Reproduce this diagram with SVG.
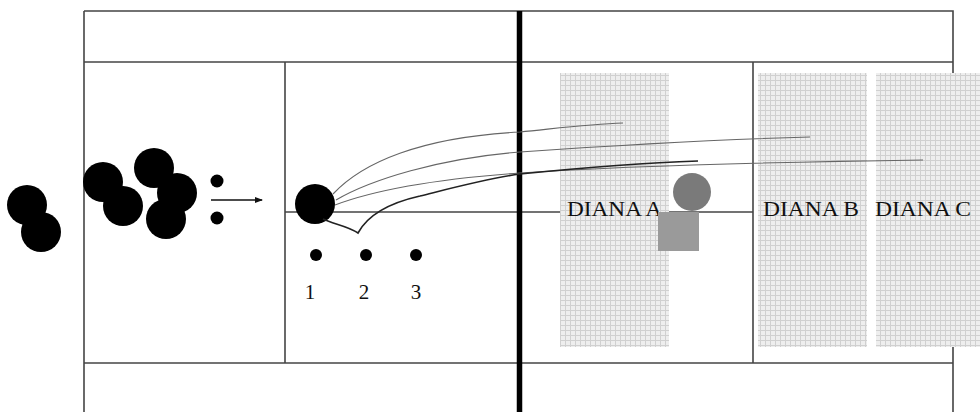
<svg xmlns="http://www.w3.org/2000/svg" width="980" height="412" viewBox="0 0 980 412">
  <defs>
    <!-- fine grey grid used for the three DIANA zones -->
    <pattern id="grid" width="5" height="5" patternUnits="userSpaceOnUse">
      <rect width="5" height="5" fill="#eeeeee"/>
      <path d="M0 0.5H5M0.5 0V5" stroke="#d0d0d0" stroke-width="1"/>
    </pattern>
    <marker id="head" markerWidth="8" markerHeight="8" refX="7" refY="4" orient="auto" markerUnits="userSpaceOnUse">
      <path d="M0 1L8 4L0 7Z" fill="#111"/>
    </marker>
    <style>
      .frame { stroke: #444; stroke-width: 1.6; fill: none; }
      .wall { stroke: #000; stroke-width: 5.5; }
      .blob { fill: #000; }
      .lab { font-family: "Liberation Serif", "Times New Roman", serif; font-size: 21px; fill: #111; }
      .trail { fill: none; stroke: #666; stroke-width: 1.1; }
      .trail-main { fill: none; stroke: #222; stroke-width: 1.6; }
    </style>
  </defs>

  <rect width="980" height="412" fill="#fff"/>

  <!-- outer frame and cell divisions -->
  <g id="frame" class="frame">
    <path d="M84 11H953V412"/>
    <path d="M84 11V412"/>
    <path d="M84 62H953"/>
    <path d="M84 363H953"/>
    <path d="M285 62V363"/>
    <path d="M753 62V363"/>
    <path d="M285 212H753"/>
  </g>

  <!-- heavy partition -->
  <g id="partition">
    <line class="wall" x1="519.5" y1="11" x2="519.5" y2="412"/>
  </g>

  <!-- detector zones -->
  <g id="diana-a">
    <rect x="560" y="73" width="109" height="274" fill="url(#grid)"/>
    <text class="lab" x="567" y="216" textLength="95" lengthAdjust="spacingAndGlyphs">DIANA A</text>
  </g>
  <g id="diana-b">
    <rect x="758" y="73" width="109" height="274" fill="url(#grid)"/>
    <text class="lab" x="763" y="216" textLength="96" lengthAdjust="spacingAndGlyphs">DIANA B</text>
  </g>
  <g id="diana-c">
    <rect x="876" y="73" width="104" height="274" fill="url(#grid)"/>
    <text class="lab" x="875" y="216" textLength="96" lengthAdjust="spacingAndGlyphs">DIANA C</text>
  </g>

  <!-- marker shapes inside zone A -->
  <g id="target">
    <circle cx="692" cy="192" r="19" fill="#7a7a7a"/>
    <rect x="658" y="212" width="41" height="39" fill="#9a9a9a"/>
  </g>

  <!-- free pair outside the frame -->
  <g id="pair">
    <circle class="blob" cx="27" cy="205" r="20"/>
    <circle class="blob" cx="41" cy="232" r="20"/>
  </g>

  <!-- cluster of five -->
  <g id="cluster">
    <circle class="blob" cx="103" cy="182" r="20"/>
    <circle class="blob" cx="123" cy="206" r="20"/>
    <circle class="blob" cx="154" cy="168" r="20"/>
    <circle class="blob" cx="177" cy="193" r="20"/>
    <circle class="blob" cx="166" cy="219" r="20"/>
  </g>

  <!-- two small fragments -->
  <g id="fragments">
    <circle class="blob" cx="217" cy="181" r="6.5"/>
    <circle class="blob" cx="217" cy="218" r="6.5"/>
  </g>

  <!-- single body emitting trails -->
  <g id="source">
    <circle class="blob" cx="315" cy="204" r="20"/>
  </g>

  <!-- numbered points -->
  <g id="points">
    <circle class="blob" cx="316" cy="255" r="6"/>
    <circle class="blob" cx="366" cy="255" r="6"/>
    <circle class="blob" cx="416" cy="255" r="6"/>
    <text class="lab" x="310" y="299" text-anchor="middle">1</text>
    <text class="lab" x="364" y="299" text-anchor="middle">2</text>
    <text class="lab" x="416" y="299" text-anchor="middle">3</text>
  </g>

  <!-- trails and arrow -->
  <g id="connectors">
    <line x1="211" y1="200" x2="262" y2="200" stroke="#111" stroke-width="1.6" marker-end="url(#head)"/>
    <path class="trail" d="M333 194C362 163 420 137 520 132C560 128 590 124 623 123"/>
    <path class="trail" d="M336 200C370 180 440 158 520 152C620 145 700 140 810 137"/>
    <path class="trail" d="M335 205C380 188 450 178 520 173C640 165 780 162 923 160"/>
    <path class="trail-main" d="M323 219C333 224 348 226 358 233C365 220 380 205 420 196C460 186 490 178 520 174C580 168 640 163 698 161"/>
  </g>
</svg>
